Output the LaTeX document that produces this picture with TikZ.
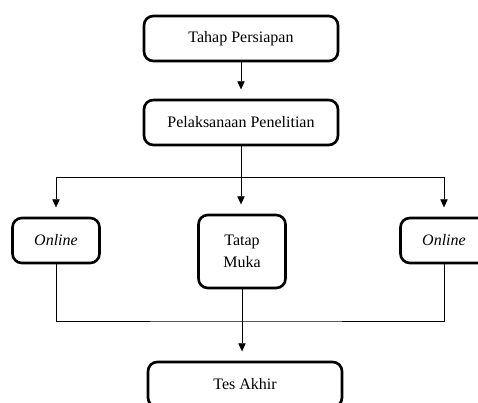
\documentclass[tikz,border=0pt]{standalone}
\usepackage{fontspec}
\setmainfont{Liberation Serif}
\usetikzlibrary{arrows.meta}

\begin{document}
\begin{tikzpicture}[x=0.75pt, y=-0.75pt,
        box/.style = {draw, line width=2pt, rounded corners=7pt, align=center, font=\fontsize{12}{16}\selectfont},
        lebar/.style = {box, minimum width=145.5pt, minimum height=33.75pt},
        kecil/.style = {box, minimum width=65.25pt, minimum height=33.75pt},
        panah/.style = {-{Triangle[width=5.5pt,length=6pt]}, shorten >=7pt}]
        \useasboundingbox (0,0) rectangle (478,403);
        \clip (0,0) rectangle (478,403);

        \node[lebar] (persiapan) at (241,38.5) {Tahap Persiapan};
        \node[lebar] (pelaksanaan) at (241,122.5) {Pelaksanaan Penelitian};
        \node[kecil] (onlinekiri) at (56,240.5) {\textit{Online}};
        \node[kecil, minimum height=54.75pt] (tatap) at (242,251.5) {Tatap\\Muka};
        \node[kecil] (onlinekanan) at (444,240.5) {\textit{Online}};
        \node[lebar] (akhir) at (245,384.5) {Tes Akhir};

        \coordinate (cabang) at (241,177);
        \coordinate (gabung) at (242,321);

        \draw[panah] (persiapan) -- (pelaksanaan);
        \draw (pelaksanaan) -- (cabang);
        \draw[panah] (cabang) -| (onlinekiri);
        \draw[panah] (cabang) -| (onlinekanan);
        \draw[panah] (cabang) -- (cabang |- tatap.north);

        \draw (onlinekiri) |- (gabung) -| (onlinekanan);
        \draw[panah] (tatap) -- (tatap |- akhir.north);

    \end{tikzpicture}
\end{document}
